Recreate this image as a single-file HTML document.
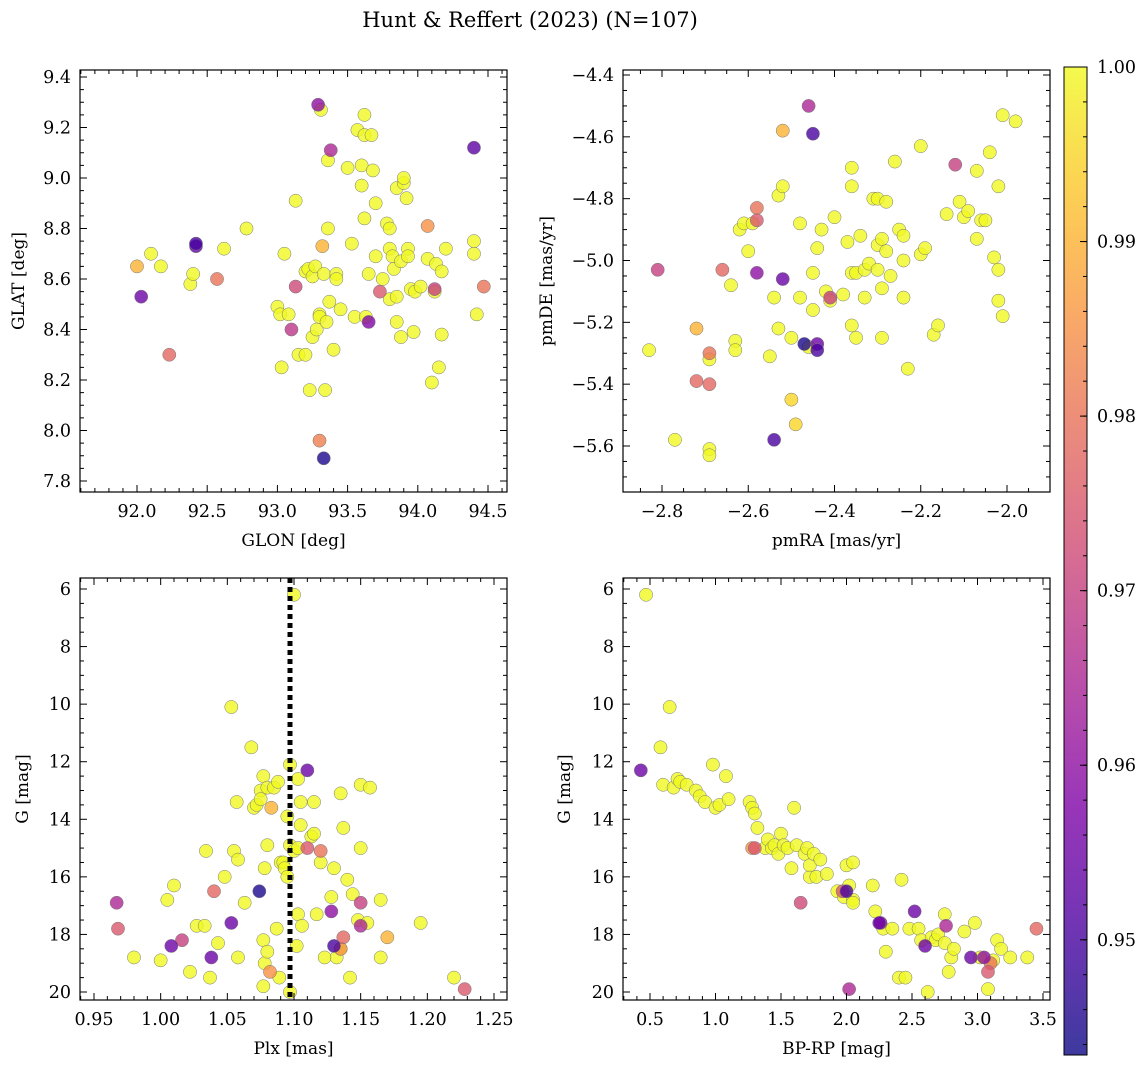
<!DOCTYPE html>
<html><head><meta charset="utf-8"><style>
html,body{margin:0;padding:0;background:#fff}
svg{display:block;font-family:"DejaVu Serif","Liberation Serif",serif}
</style></head><body>
<svg id="fig" width="1148" height="1067">
<text x="530" y="27" font-size="21" text-anchor="middle">Hunt &amp; Reffert (2023) (N=107)</text>
</svg>
<script>
// ---------- data ----------
const p1x=[92.1,92.17,92.38,92.4,92.62,92.78,93.05,93.0,93.02,93.03,93.08,93.13,93.15,93.2,93.2,93.22,93.23,93.25,93.25,93.27,93.28,93.3,93.3,93.31,93.33,93.34,93.35,93.36,93.36,93.37,93.4,93.42,93.42,93.45,93.5,93.53,93.55,93.57,93.6,93.6,93.62,93.62,93.62,93.63,93.65,93.67,93.68,93.7,93.7,93.75,93.78,93.8,93.8,93.8,93.82,93.83,93.85,93.85,93.85,93.88,93.88,93.9,93.9,93.92,93.93,93.93,93.95,93.97,93.98,94.02,94.07,94.1,94.12,94.13,94.15,94.17,94.2,94.17,94.4,94.4,94.42,92.0,92.03,92.23,92.42,92.42,92.57,93.1,93.13,93.29,93.3,93.32,93.33,93.38,93.65,93.73,94.07,94.12,94.4,94.47];
const p1y=[8.70,8.65,8.58,8.62,8.72,8.80,8.70,8.49,8.46,8.25,8.46,8.91,8.30,8.30,8.63,8.64,8.16,8.37,8.61,8.65,8.40,8.46,8.45,9.27,8.62,8.16,8.43,8.80,9.07,8.51,8.32,8.62,8.60,8.48,9.04,8.74,8.45,9.19,9.05,8.97,9.17,9.25,8.84,8.45,8.62,9.17,9.03,8.69,8.90,8.60,8.82,8.80,8.72,8.52,8.69,8.64,8.96,8.53,8.43,8.67,8.37,8.98,9.0,8.92,8.72,8.69,8.56,8.39,8.55,8.57,8.68,8.19,8.55,8.66,8.25,8.38,8.72,8.63,8.75,8.70,8.46,8.65,8.53,8.30,8.74,8.73,8.60,8.40,8.57,9.29,7.96,8.73,7.89,9.11,8.43,8.55,8.81,8.56,9.12,8.57];
const p1c=[...Array(81).fill(1.0),0.99,0.955,0.978,0.95,0.953,0.98,0.968,0.972,0.96,0.982,0.99,0.945,0.965,0.958,0.975,0.985,0.97,0.953,0.98];

const p2x=[-2.83,-2.77,-2.69,-2.69,-2.69,-2.64,-2.63,-2.63,-2.62,-2.61,-2.60,-2.59,-2.55,-2.54,-2.53,-2.53,-2.52,-2.5,-2.48,-2.48,-2.46,-2.45,-2.44,-2.45,-2.43,-2.42,-2.41,-2.4,-2.38,-2.37,-2.36,-2.36,-2.36,-2.35,-2.36,-2.34,-2.33,-2.33,-2.32,-2.31,-2.3,-2.3,-2.3,-2.29,-2.29,-2.29,-2.28,-2.28,-2.27,-2.26,-2.25,-2.24,-2.24,-2.24,-2.23,-2.2,-2.2,-2.19,-2.17,-2.16,-2.14,-2.11,-2.1,-2.09,-2.07,-2.07,-2.06,-2.05,-2.04,-2.03,-2.02,-2.02,-2.02,-2.01,-2.01,-1.98,-2.35,-2.81,-2.52,-2.46,-2.45,-2.58,-2.58,-2.66,-2.58,-2.52,-2.47,-2.44,-2.44,-2.54,-2.72,-2.69,-2.72,-2.69,-2.41,-2.12,-2.5,-2.49];
const p2y=[-5.29,-5.58,-5.61,-5.63,-5.32,-5.08,-5.26,-5.29,-4.90,-4.88,-4.97,-4.88,-5.31,-5.12,-5.22,-4.79,-4.76,-5.25,-4.88,-5.12,-5.28,-5.04,-4.96,-5.16,-4.90,-5.10,-5.13,-4.86,-5.11,-4.94,-4.70,-4.76,-5.04,-5.04,-5.21,-4.92,-5.03,-5.12,-5.01,-4.80,-4.80,-4.95,-5.03,-4.93,-5.25,-5.09,-4.81,-4.97,-5.05,-4.68,-4.90,-4.92,-5.00,-5.12,-5.35,-4.63,-4.98,-4.96,-5.24,-5.21,-4.85,-4.81,-4.86,-4.84,-4.93,-4.71,-4.87,-4.87,-4.65,-4.99,-5.03,-4.76,-5.13,-5.18,-4.53,-4.55,-5.25,-5.03,-4.58,-4.50,-4.59,-4.83,-4.87,-5.03,-5.04,-5.06,-5.27,-5.27,-5.29,-5.58,-5.22,-5.30,-5.39,-5.40,-5.12,-4.69,-5.45,-5.53];
const p2c=[...Array(77).fill(1.0),0.97,0.99,0.965,0.95,0.98,0.975,0.978,0.96,0.955,0.945,0.955,0.95,0.95,0.99,0.98,0.978,0.978,0.97,0.97,0.995,0.995];

const p3x=[0.98,1.0,1.005,1.01,1.022,1.027,1.033,1.034,1.037,1.043,1.048,1.053,1.055,1.057,1.058,1.058,1.063,1.068,1.07,1.072,1.075,1.075,1.077,1.077,1.077,1.078,1.078,1.08,1.08,1.08,1.085,1.087,1.088,1.089,1.09,1.092,1.093,1.095,1.095,1.097,1.097,1.097,1.1,1.1,1.102,1.103,1.103,1.103,1.105,1.105,1.106,1.113,1.115,1.115,1.117,1.12,1.123,1.128,1.13,1.132,1.135,1.137,1.14,1.142,1.144,1.148,1.15,1.15,1.155,1.157,1.165,1.165,1.195,1.22,1.135,0.967,0.968,1.008,1.016,1.038,1.04,1.053,1.074,1.082,1.083,1.11,1.11,1.12,1.128,1.13,1.137,1.15,1.15,1.17,1.228,1.135];
const p3y=[18.8,18.9,16.8,16.3,19.3,17.7,17.7,15.1,19.5,18.3,16.0,10.1,15.1,13.4,15.4,18.8,16.9,11.5,13.6,13.5,13.0,13.3,12.5,19.8,18.2,15.7,19.0,12.9,14.9,18.6,12.9,17.8,12.7,19.5,15.5,15.5,15.7,16.0,13.9,12.1,14.9,20.0,6.2,15.1,18.4,17.3,15.0,12.6,13.4,14.2,17.7,14.6,14.5,13.4,17.3,15.5,18.8,16.7,15.7,18.8,18.5,14.3,16.1,19.5,16.6,17.5,15.0,12.8,17.6,12.9,16.8,18.8,17.6,19.5,13.1,16.9,17.8,18.4,18.2,18.8,16.5,17.6,16.5,19.3,13.6,12.3,15.0,15.1,17.2,18.4,18.1,16.9,17.7,18.1,19.9,18.5];
const p3c=[...Array(75).fill(1.0),0.965,0.975,0.955,0.97,0.955,0.978,0.955,0.945,0.985,0.99,0.955,0.975,0.98,0.96,0.95,0.978,0.97,0.965,0.99,0.975,0.985];
const plxLine=1.097;

const p4x=[0.47,0.58,0.6,0.65,0.68,0.71,0.73,0.78,0.85,0.88,0.92,0.98,1.0,1.03,1.08,1.1,1.26,1.28,1.3,1.32,1.38,1.4,1.43,1.45,1.48,1.5,1.52,1.55,1.58,1.6,1.62,1.68,1.7,1.72,1.72,1.75,1.77,1.8,1.85,1.93,1.98,2.0,2.02,2.05,2.05,2.05,2.2,2.22,2.28,2.3,2.35,2.4,2.42,2.45,2.48,2.55,2.57,2.62,2.65,2.68,2.7,2.75,2.75,2.78,2.8,2.82,2.9,2.98,3.02,3.08,3.12,3.15,3.18,3.25,3.38,0.43,1.28,1.3,1.65,1.97,2.0,2.02,2.25,2.26,2.52,2.6,2.76,2.95,3.08,3.1,3.45,3.05];
const p4y=[6.2,11.5,12.8,10.1,12.9,12.6,12.7,12.8,13.0,13.2,13.4,12.1,13.6,13.5,12.5,13.3,13.4,13.6,13.8,14.3,15.0,14.7,15.0,14.9,15.2,14.5,14.9,15.0,15.7,13.6,14.9,15.2,15.0,16.0,15.6,15.2,16.0,15.4,15.9,16.5,16.7,15.6,16.3,16.8,16.9,15.5,16.3,17.2,17.8,18.6,17.8,19.5,16.1,19.5,17.8,17.8,18.2,20.0,18.1,18.2,18.0,18.3,17.3,19.3,18.8,18.5,17.9,17.6,18.8,19.9,18.9,18.2,18.5,18.8,18.8,12.3,15.0,15.0,16.9,16.5,16.5,19.9,17.6,17.6,17.2,18.4,17.7,18.8,19.3,19.0,17.8,18.8];
const p4c=[...Array(75).fill(1.0),0.955,0.985,0.975,0.972,0.975,0.95,0.965,0.955,0.96,0.955,0.955,0.965,0.955,0.975,0.98,0.978,0.96];

const cmin=0.9434, cmax=1.0;
const cbTicks=[0.95,0.96,0.97,0.98,0.99,1.00];

// ---------- helpers ----------
const NS='http://www.w3.org/2000/svg';
const fig=document.getElementById('fig');
function mk(tag,attrs,parent){const e=document.createElementNS(NS,tag);for(const k in attrs)e.setAttribute(k,attrs[k]);(parent||fig).appendChild(e);return e;}
const stops=['#0d0887','#4c02a1','#7e03a8','#a92395','#cc4778','#e56b5d','#f89540','#fdc527','#f0f921'];
function hex(h){return [1,3,5].map(i=>parseInt(h.substr(i,2),16));}
function plasma(t){t=Math.max(0,Math.min(1,t));const s=t*8,i=Math.min(7,Math.floor(s)),f=s-i;const a=hex(stops[i]),b=hex(stops[i+1]);return 'rgb('+a.map((v,k)=>Math.round(v+(b[k]-v)*f)).join(',')+')';}
function lin(d0,d1,r0,r1){return v=>r0+(v-d0)/(d1-d0)*(r1-r0);}
function fmt(v,dec){let s=v.toFixed(dec);return s.replace('-','\u2212');}

function panel(o){
  const g=mk('g',{});
  
  
  const sx=lin(o.xd[0],o.xd[1],o.xr[0],o.xr[1]);
  const sy=lin(o.yd[0],o.yd[1],o.yr[0],o.yr[1]);
  const L=o.box[0],T=o.box[1],R=o.box[2],B=o.box[3];
  const pg=mk('g',{},g);
  
  
  const idx=o.x.map((_,i)=>i).sort((a,b)=>o.c[b]-o.c[a]);
  for(const i of idx){
    const c=mk('circle',{cx:sx(o.x[i]),cy:sy(o.y[i]),r:6.6,fill:plasma((o.c[i]-cmin)/(cmax-cmin)),'fill-opacity':0.8,stroke:'#777','stroke-width':0.5},pg);
    
    
  }
  if(o.extra)o.extra(g,sx,sy);
  const fr=mk('rect',{x:L,y:T,width:R-L,height:B-T,fill:'none',stroke:'#000','stroke-width':1.2},g);
  
  
  const xl=mk('g',{},g);
  
  
  for(let v=Math.ceil(o.xd0/o.xmin-1e-9)*o.xmin;v<=o.xd1+1e-9;v+=o.xmin){
    const px=sx(v);if(px<L||px>R)continue;
    const major=Math.abs(v/o.xmaj-Math.round(v/o.xmaj))<1e-6;const len=major?7:4;
    mk('line',{x1:px,y1:B,x2:px,y2:B-len,stroke:'#000','stroke-width':1},g);
    mk('line',{x1:px,y1:T,x2:px,y2:T+len,stroke:'#000','stroke-width':1},g);
    if(major){const t=mk('text',{x:px,y:B+25,'font-size':17.5,'text-anchor':'middle'},xl);t.textContent=fmt(v,o.xdec);}
  }
  const yl=mk('g',{},g);
  
  
  for(let v=Math.ceil(o.yd0/o.ymin-1e-9)*o.ymin;v<=o.yd1+1e-9;v+=o.ymin){
    const py=sy(v);if(py<T||py>B)continue;
    const major=Math.abs(v/o.ymaj-Math.round(v/o.ymaj))<1e-6;const len=major?7:4;
    mk('line',{x1:L,y1:py,x2:L+len,y2:py,stroke:'#000','stroke-width':1},g);
    mk('line',{x1:R,y1:py,x2:R-len,y2:py,stroke:'#000','stroke-width':1},g);
    if(major){const t=mk('text',{x:L-9,y:py+6,'font-size':17.5,'text-anchor':'end'},yl);t.textContent=fmt(v,o.ydec);}
  }
  const xt=mk('text',{x:(L+R)/2,y:B+54,'font-size':17,'text-anchor':'middle'},g);
  xt.textContent=o.xlabel;
  
  
  const yx=o.ylx, yy=(T+B)/2;
  const yt=mk('text',{x:yx,y:yy,'font-size':17,'text-anchor':'middle',transform:`rotate(-90 ${yx} ${yy})`},g);
  yt.textContent=o.ylabel;
  
  
}
function inv(d0,d1,r0,r1,p){return d0+(p-r0)/(r1-r0)*(d1-d0);}
function mkPanel(o){o.xd0=inv(o.xd[0],o.xd[1],o.xr[0],o.xr[1],o.box[0]);o.xd1=inv(o.xd[0],o.xd[1],o.xr[0],o.xr[1],o.box[2]);
  let a=inv(o.yd[0],o.yd[1],o.yr[0],o.yr[1],o.box[1]),b=inv(o.yd[0],o.yd[1],o.yr[0],o.yr[1],o.box[3]);o.yd0=Math.min(a,b);o.yd1=Math.max(a,b);panel(o);}

mkPanel({name:'glon-glat-panel',x:p1x,y:p1y,c:p1c,box:[80,70,507,492],xd:[92.0,94.5],xr:[137,488],yd:[9.4,7.8],yr:[77,481],
  xmaj:0.5,xmin:0.1,xdec:1,ymaj:0.2,ymin:0.05,ydec:1,xlabel:'GLON [deg]',ylabel:'GLAT [deg]',ylx:24});
mkPanel({name:'proper-motion-panel',x:p2x,y:p2y,c:p2c,box:[623,70,1050,492],xd:[-2.8,-2.0],xr:[662,1007],yd:[-4.4,-5.6],yr:[75,446],
  xmaj:0.2,xmin:0.05,xdec:1,ymaj:0.2,ymin:0.05,ydec:1,xlabel:'pmRA [mas/yr]',ylabel:'pmDE [mas/yr]',ylx:552});
mkPanel({name:'parallax-g-panel',x:p3x,y:p3y,c:p3c,box:[80,578,507,1000],xd:[0.95,1.25],xr:[94,494],yd:[6,20],yr:[589,992],
  xmaj:0.05,xmin:0.01,xdec:2,ymaj:2,ymin:0.5,ydec:0,xlabel:'Plx [mas]',ylabel:'G [mag]',ylx:28,
  extra:(g,sx,sy)=>{const l=mk('line',{x1:sx(plxLine),y1:578,x2:sx(plxLine),y2:1000,stroke:'#000','stroke-width':5,'stroke-dasharray':'5 4'},g);
    
    }});
mkPanel({name:'cmd-panel',x:p4x,y:p4y,c:p4c,box:[623,578,1050,1000],xd:[0.5,3.5],xr:[650,1043],yd:[6,20],yr:[589,992],
  xmaj:0.5,xmin:0.1,xdec:1,ymaj:2,ymin:0.5,ydec:0,xlabel:'BP-RP [mag]',ylabel:'G [mag]',ylx:570});

// colorbar
const cb=mk('g',{});


const defs=mk('defs',{},cb);
const gr=mk('linearGradient',{id:'cbg',x1:0,y1:1,x2:0,y2:0},defs);
for(let i=0;i<=20;i++)mk('stop',{offset:i/20,'stop-color':plasma(i/20),'stop-opacity':0.8},gr);
const cbT=67,cbB=1055,cbL=1064,cbR=1087;
mk('rect',{x:cbL,y:cbT,width:cbR-cbL,height:cbB-cbT,fill:'url(#cbg)',stroke:'#000','stroke-width':1},cb);
const cy=lin(cmin,cmax,cbB,cbT);
for(let v=0.944;v<=1.0001;v+=0.002){const py=cy(v);mk('line',{x1:cbR,y1:py,x2:cbR-4,y2:py,stroke:'#000'},cb);}
for(const v of cbTicks){const py=cy(v);mk('line',{x1:cbR,y1:py,x2:cbR-7,y2:py,stroke:'#000'},cb);
  const t=mk('text',{x:cbR+10,y:py+6,'font-size':17.5},cb);t.textContent=v.toFixed(2);
  
  }
</script>
</body></html>
